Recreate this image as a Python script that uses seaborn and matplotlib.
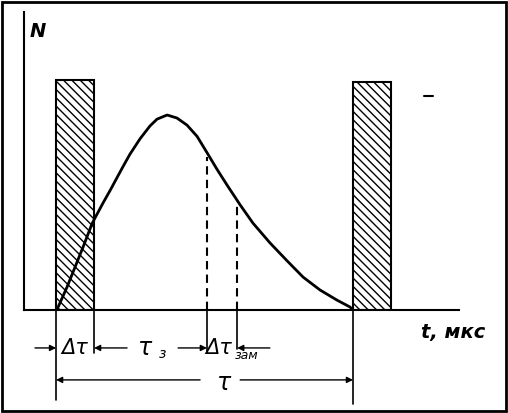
import numpy as np
import seaborn as sns
import matplotlib.pyplot as plt
from matplotlib.patches import Rectangle

# curve of N(t), t in units where the pulse period tau = 100
t_curve = [0, 0.7, 3.7, 6.4, 9.1, 12.1, 13.1, 15.8, 18.2, 20.5, 22.6, 24.9,
           28.3, 31.6, 34.0, 37.4, 40.7, 44.1, 47.5, 50.8, 54.2, 57.6, 62.0,
           66.3, 72.1, 77.8, 83.2, 88.9, 94.6, 99.0, 100]
n_curve = [0, 0.013, 0.10, 0.187, 0.274, 0.375, 0.40, 0.465, 0.52, 0.575, 0.625, 0.678,
           0.745, 0.80, 0.83, 0.848, 0.835, 0.804, 0.755, 0.685, 0.612, 0.543, 0.457,
           0.378, 0.291, 0.214, 0.143, 0.087, 0.043, 0.013, 0]

# neutron pulses (hatched bars)
bar_starts = [0, 100]
bar_heights = [1.0, 0.99]
bar_width = 12.8

# measurement window (dashed lines)
t_window = [50.8, 61.0]

x_label = 't, мкс'
y_label = 'N'

sns.set_style('white')
plt.rcParams['font.family'] = ['DejaVu Sans']
plt.rcParams['text.color'] = 'black'
plt.rcParams['hatch.linewidth'] = 1.0

fig = plt.figure(figsize=(5.08, 4.13), dpi=100)
ax = fig.add_axes([24 / 508, 103 / 413, 435 / 508, 298 / 413])

ax.bar(bar_starts, bar_heights, width=bar_width, align='edge', facecolor='white',
       edgecolor='black', hatch='\\\\\\\\', linewidth=1.5, zorder=1)
sns.lineplot(x=t_curve, y=n_curve, ax=ax, color='black', lw=2, sort=False, zorder=3,
             solid_joinstyle='round', solid_capstyle='round')

# dashed verticals up to the curve
for tw in t_window:
    ax.plot([tw, tw], [0, np.interp(tw, t_curve, n_curve) - 0.02], color='black',
            lw=1.5, ls=(0, (4, 2.5)), zorder=2)

ax.set_xlim(-10.8, 135.7)
ax.set_ylim(0, 1.296)
ax.set_xticks([])
ax.set_yticks([])
for s in ['top', 'right']:
    ax.spines[s].set_visible(False)
for s in ['left', 'bottom']:
    ax.spines[s].set_linewidth(1.5)
    ax.spines[s].set_color('black')

ax.text(-6.1, 1.21, y_label, fontsize=14, style='italic', fontweight='bold',
        ha='center', va='center')
ax.text(133.7, -0.1, x_label, fontsize=14, style='italic', fontweight='bold',
        ha='center', va='center')

# extension lines below the axis
for tx, low in [(0, -0.39), (12.8, -0.187), (50.8, -0.187), (61.0, -0.17), (100, -0.41)]:
    ax.plot([tx, tx], [0, low], color='black', lw=1.2, clip_on=False)

arrow = dict(arrowstyle='-|>', color='black', lw=1.0, mutation_scale=9,
             shrinkA=0, shrinkB=0)
row1 = -0.165
for start, end in [(-7.1, 0), (23.9, 12.8), (41.1, 50.8), (72.0, 61.0)]:
    ax.annotate('', xy=(end, row1), xytext=(start, row1), arrowprops=arrow,
                annotation_clip=False)
row2 = -0.304
for start, end in [(48.5, 0), (62.0, 100)]:
    ax.annotate('', xy=(end, row2), xytext=(start, row2), arrowprops=arrow,
                annotation_clip=False)

ax.text(6.4, row1, 'Δτ', fontsize=15, style='italic', ha='center', va='center')
ax.text(30.0, row1, 'τ', fontsize=17, style='italic', ha='center', va='center')
ax.text(35.7, -0.19, 'з', fontsize=10, style='italic', ha='center', va='center')
ax.text(54.9, row1, 'Δτ', fontsize=15, style='italic', ha='center', va='center')
ax.text(64.3, -0.2, 'зам', fontsize=9, style='italic', ha='center', va='center')
ax.text(56.6, -0.317, 'τ', fontsize=17, style='italic', ha='center', va='center')

# stray marks of the scan
ax.plot([124, 127], [0.93, 0.93], color='black', lw=1.5)

fig.add_artist(Rectangle((0.004, 0.006), 0.992, 0.99, transform=fig.transFigure,
                         fill=False, lw=2, ec='black'))

fig.savefig('out.png', dpi=100)
